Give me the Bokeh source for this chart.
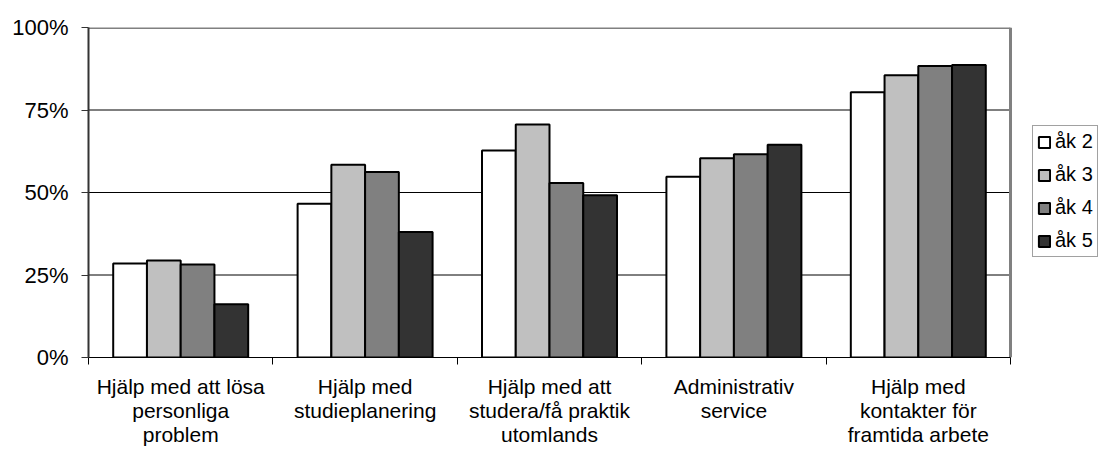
from bokeh.plotting import figure
from bokeh.models import (ColumnDataSource, FixedTicker, Legend, LegendItem, Range1d)
from bokeh.embed import file_html
from bokeh.resources import INLINE

# ---- data ----
categories = [
    "Hjälp med att lösa\npersonliga\nproblem",
    "Hjälp med\nstudieplanering",
    "Hjälp med att\nstudera/få praktik\nutomlands",
    "Administrativ\nservice",
    "Hjälp med\nkontakter för\nframtida arbete",
]
series = ["åk 2", "åk 3", "åk 4", "åk 5"]
ak2 = [28.5, 46.6, 62.7, 54.8, 80.4]
ak3 = [29.4, 58.4, 70.6, 60.4, 85.5]
ak4 = [28.2, 56.2, 52.9, 61.6, 88.3]
ak5 = [16.1, 38.0, 49.2, 64.5, 88.6]
y_ticks = [0, 25, 50, 75, 100]
y_tick_labels = ["0%", "25%", "50%", "75%", "100%"]

colors = ["#FFFFFF", "#C0C0C0", "#808080", "#333333"]
FONT = "Liberation Sans"

W, H = 1099, 450
LEFT, TOP, BOTTOM = 88, 27, 93
PLOT_RIGHT = 1010            # where the category area ends (pixels)
n = len(categories)
x_end = n * (W - LEFT) / (PLOT_RIGHT - LEFT)   # frame runs to canvas edge; room for legend

p = figure(width=W, height=H, output_backend="svg", toolbar_location=None,
           x_range=Range1d(0, x_end), y_range=Range1d(0, 100),
           min_border_left=LEFT, min_border_right=0, min_border_top=TOP,
           min_border_bottom=BOTTOM)
p.background_fill_color = "white"
p.border_fill_color = "white"
p.outline_line_color = None

# grid lines and plot-area border, limited to the category area
grid_y = y_ticks[1:-1]
p.segment(x0=[0] * len(grid_y), x1=[n] * len(grid_y), y0=grid_y, y1=grid_y,
          line_color="black", line_width=1)
p.segment(x0=[0, n], x1=[n, n], y0=[100, 0], y1=[100, 100],
          line_color="#808080", line_width=3)

bar_w = 0.183
offsets = [-1.5 * bar_w, -0.5 * bar_w, 0.5 * bar_w, 1.5 * bar_w]
idx = list(range(n))
renderers = []
for k, vals in enumerate([ak2, ak3, ak4, ak5]):
    src = ColumnDataSource(dict(x=[i + 0.5 + offsets[k] for i in idx], top=vals))
    r = p.vbar(x="x", top="top", width=bar_w, bottom=0, source=src,
               fill_color=colors[k], line_color="black", line_width=2)
    renderers.append(r)

# y axis
p.yaxis.ticker = FixedTicker(ticks=y_ticks)
p.yaxis.major_label_overrides = {t: l for t, l in zip(y_ticks, y_tick_labels)}
p.yaxis.major_label_text_font = FONT
p.yaxis.major_label_text_font_size = "22px"
p.yaxis.major_label_text_color = "black"
p.yaxis.major_tick_out = 7
p.yaxis.major_tick_in = 0
p.yaxis.minor_tick_line_color = None
p.yaxis.major_label_standoff = 13
p.yaxis.axis_line_color = "#333333"
p.yaxis.axis_line_width = 2
p.yaxis.major_tick_line_color = "#333333"

# x axis: labels at category centres, ticks at category boundaries
p.xaxis.bounds = (0, n)
p.xaxis.ticker = FixedTicker(ticks=[i + 0.5 for i in idx],
                             minor_ticks=list(range(n + 1)))
p.xaxis.major_label_overrides = {i + 0.5: c for i, c in zip(idx, categories)}
p.xaxis.major_label_text_font = FONT
p.xaxis.major_label_text_font_size = "21px"
p.xaxis.major_label_text_color = "black"
p.xaxis.major_label_text_line_height = 1.06
p.xaxis.major_label_standoff = 10
p.xaxis.major_tick_out = 0
p.xaxis.major_tick_in = 0
p.xaxis.major_tick_line_color = None
p.xaxis.minor_tick_out = 7
p.xaxis.minor_tick_in = 0
p.xaxis.minor_tick_line_color = "black"
p.xaxis.axis_line_color = "black"
p.xaxis.axis_line_width = 1

p.xgrid.grid_line_color = None
p.ygrid.grid_line_color = None

# legend, right of the category area
legend = Legend(items=[LegendItem(label=series[k], renderers=[renderers[k]]) for k in range(4)],
                location=(1032 - LEFT, 100), glyph_width=14, glyph_height=14,
                label_standoff=4, padding=4, spacing=10, margin=0,
                label_text_font=FONT, label_text_font_size="20px",
                label_text_color="black",
                border_line_color="#444444", border_line_width=1,
                background_fill_color="white", background_fill_alpha=1)
p.add_layout(legend)

open("out.html", "w").write(file_html(p, INLINE))
